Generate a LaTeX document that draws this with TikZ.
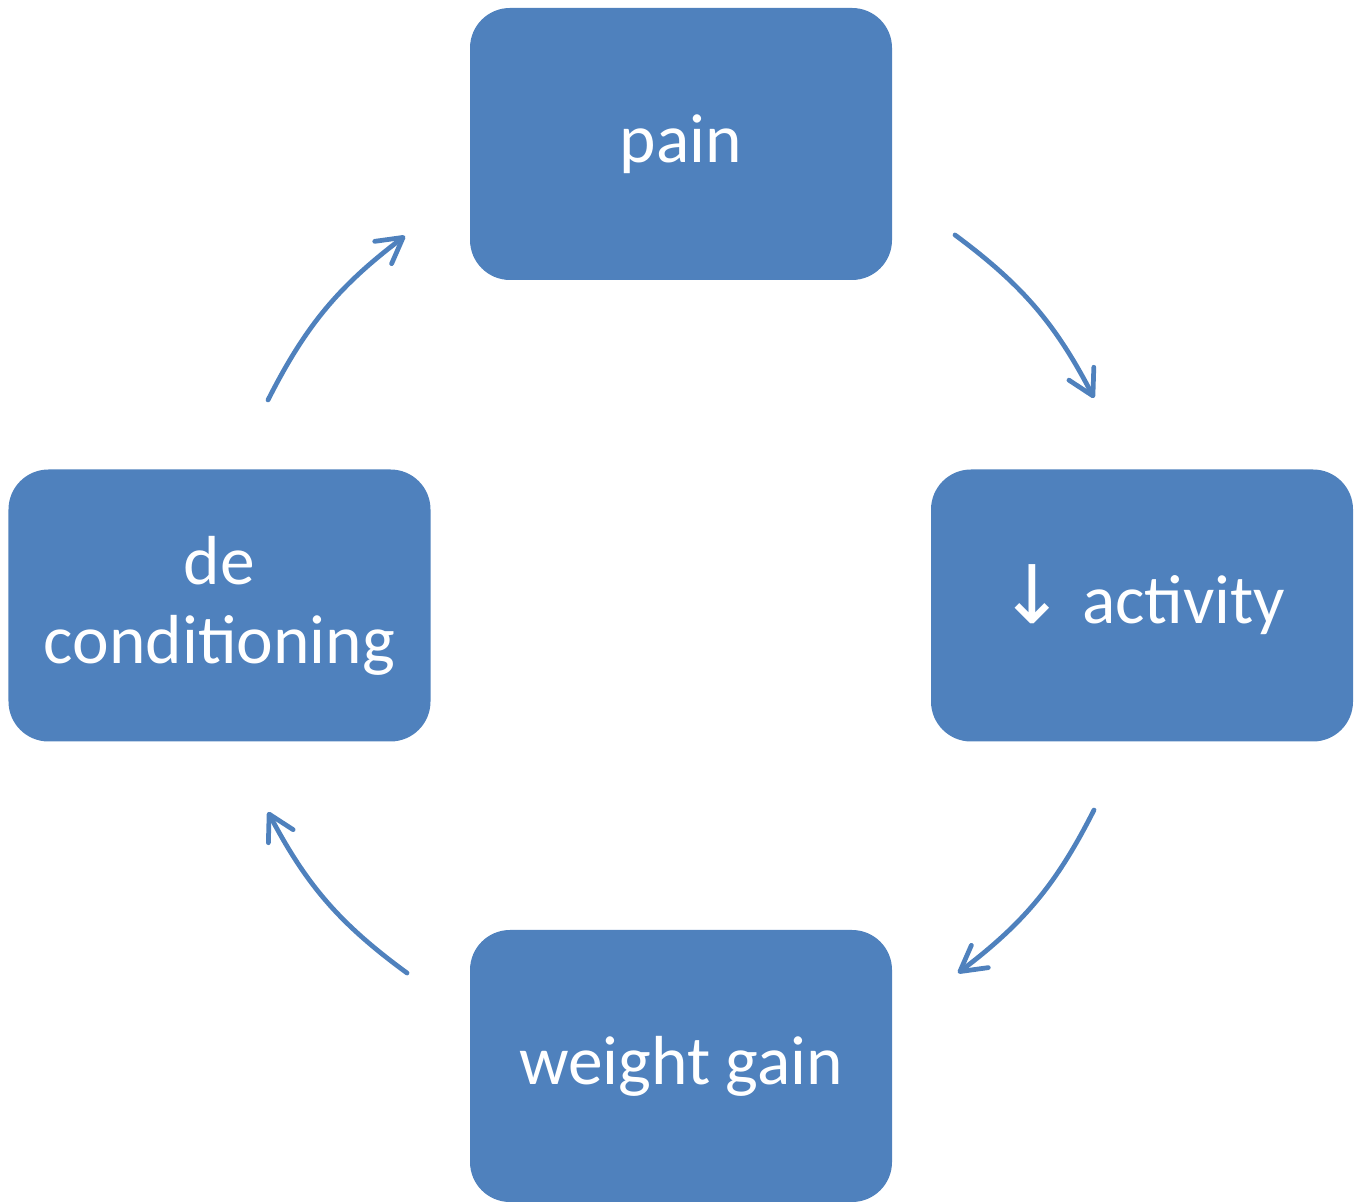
\documentclass[tikz,border=0pt]{standalone}
\usepackage{fontspec}
\setmainfont{Carlito}
\newfontfamily\arrowfont{DejaVu Sans}
\usetikzlibrary{arrows.meta}
\definecolor{boxblue}{HTML}{4F81BD}

\begin{document}
\begin{tikzpicture}[
  box/.style={rectangle, rounded corners=0.8cm, fill=boxblue, text=white, minimum width=8.44cm, minimum height=5.44cm, font=\fontsize{39.5}{45}\selectfont, align=center, inner sep=0pt},
  cycedge/.style={draw=boxblue, line width=2.7pt, line cap=round, -{Straight Barb[length=5mm,width=5.6mm,round]}, bend left=13}
]
\useasboundingbox (0,0) rectangle (27.2,24.02);

\node[box] (pain) at (13.62,21.14) {pain};
\node[box] (act) at (22.84,11.91) {\smash{\arrowfont\fontsize{46}{50}\selectfont ↓} activity};
\node[box] (gain) at (13.62,2.70) {weight gain};
\node[box] (decond) at (4.39,11.91) {de\\conditioning};

\coordinate (a1) at (19.10,19.32);
\coordinate (a2) at (21.88,16.06);
\coordinate (b1) at (21.88,7.82);
\coordinate (b2) at (19.16,4.56);
\coordinate (c1) at (8.14,4.56);
\coordinate (c2) at (5.36,7.78);
\coordinate (d1) at (5.36,16.02);
\coordinate (d2) at (8.10,19.30);

\draw[cycedge] (a1) to (a2);
\draw[cycedge] (b1) to (b2);
\draw[cycedge] (c1) to (c2);
\draw[cycedge] (d1) to (d2);

\end{tikzpicture}
\end{document}
